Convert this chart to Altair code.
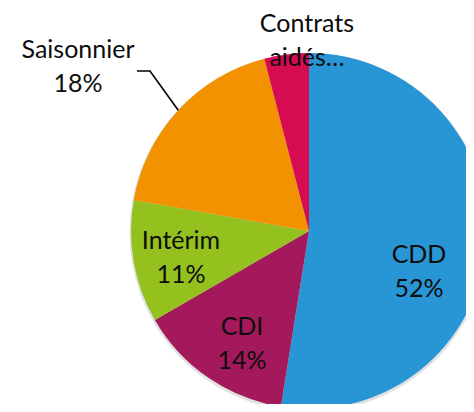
import math
import altair as alt
import pandas as pd

# ---- data ----
categories = ["CDD", "CDI", "Intérim", "Saisonnier", "Contrats aidés"]
values = [52, 14, 11, 18, 4]
labels = ["CDD\n52%", "CDI\n14%", "Intérim\n11%", "Saisonnier\n18%", "Contrats\naidés…"]
colors = ["#2896D4", "#A3195B", "#95C11F", "#F39200", "#D60B52"]

# ---- layout (pixels in chart coordinates) ----
CX, CY, R = 301, 223, 178
label_xy = {
    "CDD": (411, 246.5),
    "CDI": (234, 318.5),
    "Intérim": (173, 232.5),
    "Saisonnier": (70, 41.5),
    "Contrats aidés": (299, 16),
}

pie_df = pd.DataFrame({"cat": categories, "value": values, "idx": list(range(len(categories)))})

lab_df = pd.DataFrame({
    "cat": categories,
    "label": labels,
    "lx": [label_xy[c][0] for c in categories],
    "ly": [label_xy[c][1] for c in categories],
})

# leader line for "Saisonnier": ends on the pie edge at the slice's mid angle
total = sum(values)
k = categories.index("Saisonnier")
start = sum(values[:k]) / total * 2 * math.pi
mid = start + values[k] / total * math.pi
ex, ey = CX + R * math.sin(mid), CY - R * math.cos(mid)
leader_df = pd.DataFrame({"px": [129, 142, ex], "py": [63, 63, ey], "o": [0, 1, 2]})

theta = alt.Theta("value:Q", stack=True)
order = alt.Order("idx:Q")

shadow = alt.Chart(pie_df).mark_arc(radius=179.5, color="#d4d4d4", opacity=0.7).encode(
    theta=theta, order=order, x=alt.value(CX), y=alt.value(CY + 1.5)
)

pie = alt.Chart(pie_df).mark_arc(radius=R).encode(
    theta=theta,
    order=order,
    color=alt.Color("cat:N", scale=alt.Scale(domain=categories, range=colors), legend=None),
    x=alt.value(CX),
    y=alt.value(CY),
)

leader = alt.Chart(leader_df).mark_line(color="#000000", strokeWidth=1.6).encode(
    x=alt.X("px:Q", scale=None),
    y=alt.Y("py:Q", scale=None),
    order="o:Q",
)

text = alt.Chart(lab_df).mark_text(
    font="Lato", fontSize=25, lineBreak="\n", lineHeight=34,
    align="center", baseline="middle", color="#0d0d0d",
).encode(
    x=alt.X("lx:Q", scale=None),
    y=alt.Y("ly:Q", scale=None),
    text="label:N",
)

chart = alt.layer(shadow, pie, leader, text).properties(
    width=458, height=396, padding=0, autosize="none"
).configure_view(stroke=None)

chart.save("out.html", embed_options={"renderer": "svg", "actions": False})
